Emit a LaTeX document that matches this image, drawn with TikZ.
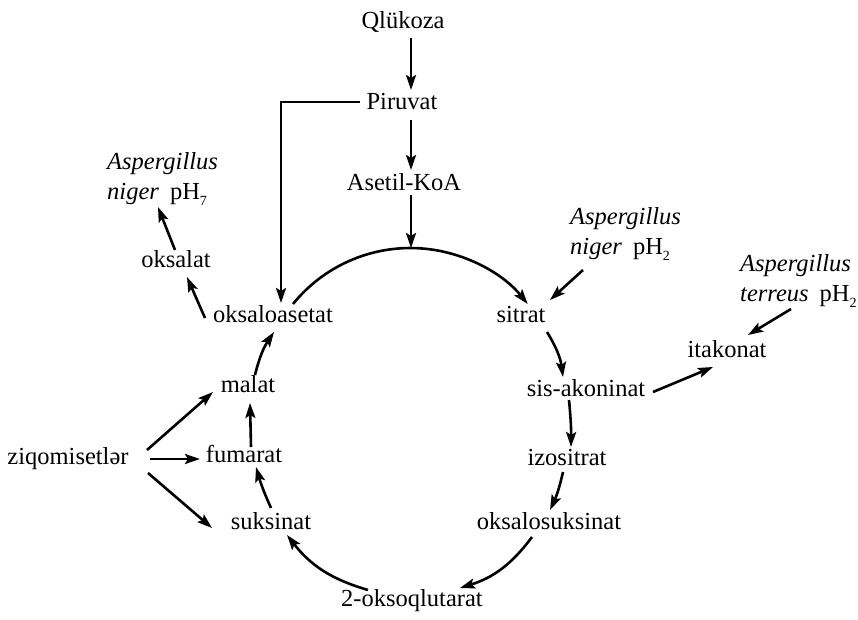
\documentclass[tikz,border=0pt]{standalone}
\usepackage{fontspec}
\setmainfont{Liberation Serif}
\usetikzlibrary{arrows.meta}
\newcommand{\lblfont}{\fontsize{24.5}{28}\selectfont}
\newcommand{\gapsp}{\hspace{0.45em}}
\newcommand{\phsub}[1]{pH\raisebox{-0.22em}{\fontsize{14}{14}\selectfont #1}}
\begin{document}
\begin{tikzpicture}[x=1pt,y=1pt,
  lbl/.style={inner sep=0pt, font=\lblfont, anchor=base},
  lblw/.style={inner sep=0pt, font=\lblfont, anchor=base west},
  arr/.style={line width=2.6pt, -{Stealth[length=15pt,width=10pt,inset=3pt]}}]
\useasboundingbox (0,0) rectangle (858,620);

% --- main chain ---
\node[lbl] (qluk)  at (403,591) {Qlükoza};
\node[lbl] (piru)  at (402,510) {Piruvat};
\node[lbl] (acoa)  at (404,429) {Asetil-KoA};

% --- cycle intermediates ---
\node[lbl] (oaa)   at (273,297) {oksaloasetat};
\node[lbl] (sitr)  at (521,297) {sitrat};
\node[lbl] (sisak) at (586,223) {sis-akoninat};
\node[lbl] (izo)   at (567,154) {izositrat};
\node[lbl] (oxs)   at (549,90)  {oksalosuksinat};
\node[lbl] (okg)   at (412,13)  {2-oksoqlutarat};
\node[lbl] (suk)   at (271,90)  {suksinat};
\node[lbl] (fum)   at (244,157) {fumarat};
\node[lbl] (mal)   at (248,227) {malat};

% --- side products and organisms ---
\node[lbl] (ziq)   at (68,155)  {ziqomisetlər};
\node[lbl] (oksal) at (176,352) {oksalat};
\node[lbl] (itak)  at (727,262) {itakonat};

\node[lblw] (anla) at (107,450) {\itshape Aspergillus};
\node[lblw] (anlb) at (107,420) {\textit{niger}\gapsp\phsub{7}};
\node[lblw] (anra) at (570,395) {\itshape Aspergillus};
\node[lblw] (anrb) at (570,365) {\textit{niger}\gapsp\phsub{2}};
\node[lblw] (atra) at (740,348) {\itshape Aspergillus};
\node[lblw] (atrb) at (740,318) {\textit{terreus}\gapsp\phsub{2}};

% --- glycolysis to the cycle ---
\draw[arr] ([shift={(8,-9)}]qluk.base) -- ([shift={(9,20)}]piru.base);
\draw[arr] ([shift={(9,-10)}]piru.base) -- ([shift={(7,21)}]acoa.base);
\coordinate (arctop) at ([shift={(138,75)}]oaa.base);
\draw[arr] ([shift={(7,-4)}]acoa.base) -- (arctop);
\draw[arr] ([shift={(-42,8)}]piru.base) -| ([shift={(8,20)}]oaa.base);

% --- the cycle ---
\draw[arr] ([shift={(20,19)}]oaa.base) arc[start angle=141,end angle=39,radius=151];
\draw[arr] ([shift={(26,-9)}]sitr.base) to[bend left=12] ([shift={(-23,20)}]sisak.base);
\draw[arr] ([shift={(-17,-3)}]sisak.base) to[bend left=3] ([shift={(4,19)}]izo.base);
\draw[arr] ([shift={(-4,-6)}]izo.base) to[bend left=6] ([shift={(1,20)}]oxs.base);
\draw[arr] ([shift={(-17,-7)}]oxs.base) to[bend left=18] ([shift={(48,19)}]okg.base);
\draw[arr] ([shift={(-44,17)}]okg.base) to[bend left=18] ([shift={(16,-5)}]suk.base);
\draw[arr] ([shift={(0,22)}]suk.base) to[bend left=4] ([shift={(12,-4)}]fum.base);
\draw[arr] ([shift={(7,16)}]fum.base) -- ([shift={(2,-10)}]mal.base);
\draw[arr] ([shift={(7,18)}]mal.base) to[bend left=10] ([shift={(1,-9)}]oaa.base);

% --- branches ---
\draw[arr] ([shift={(-68,5)}]oaa.base) -- ([shift={(11,-9)}]oksal.base);
\draw[arr] ([shift={(-1,18)}]oksal.base) -- ([shift={(51,-7)}]anlb.base west);
\draw[arr] ([shift={(13,-15)}]anrb.base west) -- ([shift={(29,23)}]sitr.base);
\draw[arr] ([shift={(51,-7)}]atrb.base west) -- ([shift={(21,23)}]itak.base);
\draw[arr] ([shift={(67,5)}]sisak.base) -- ([shift={(-14,-9)}]itak.base);
\draw[arr] ([shift={(79,15)}]ziq.base) -- ([shift={(-35,1)}]mal.base);
\draw[arr] ([shift={(82,6)}]ziq.base) -- ([shift={(-44,4)}]fum.base);
\draw[arr] ([shift={(80,-8)}]ziq.base) -- ([shift={(-59,2)}]suk.base);
\end{tikzpicture}
\end{document}
